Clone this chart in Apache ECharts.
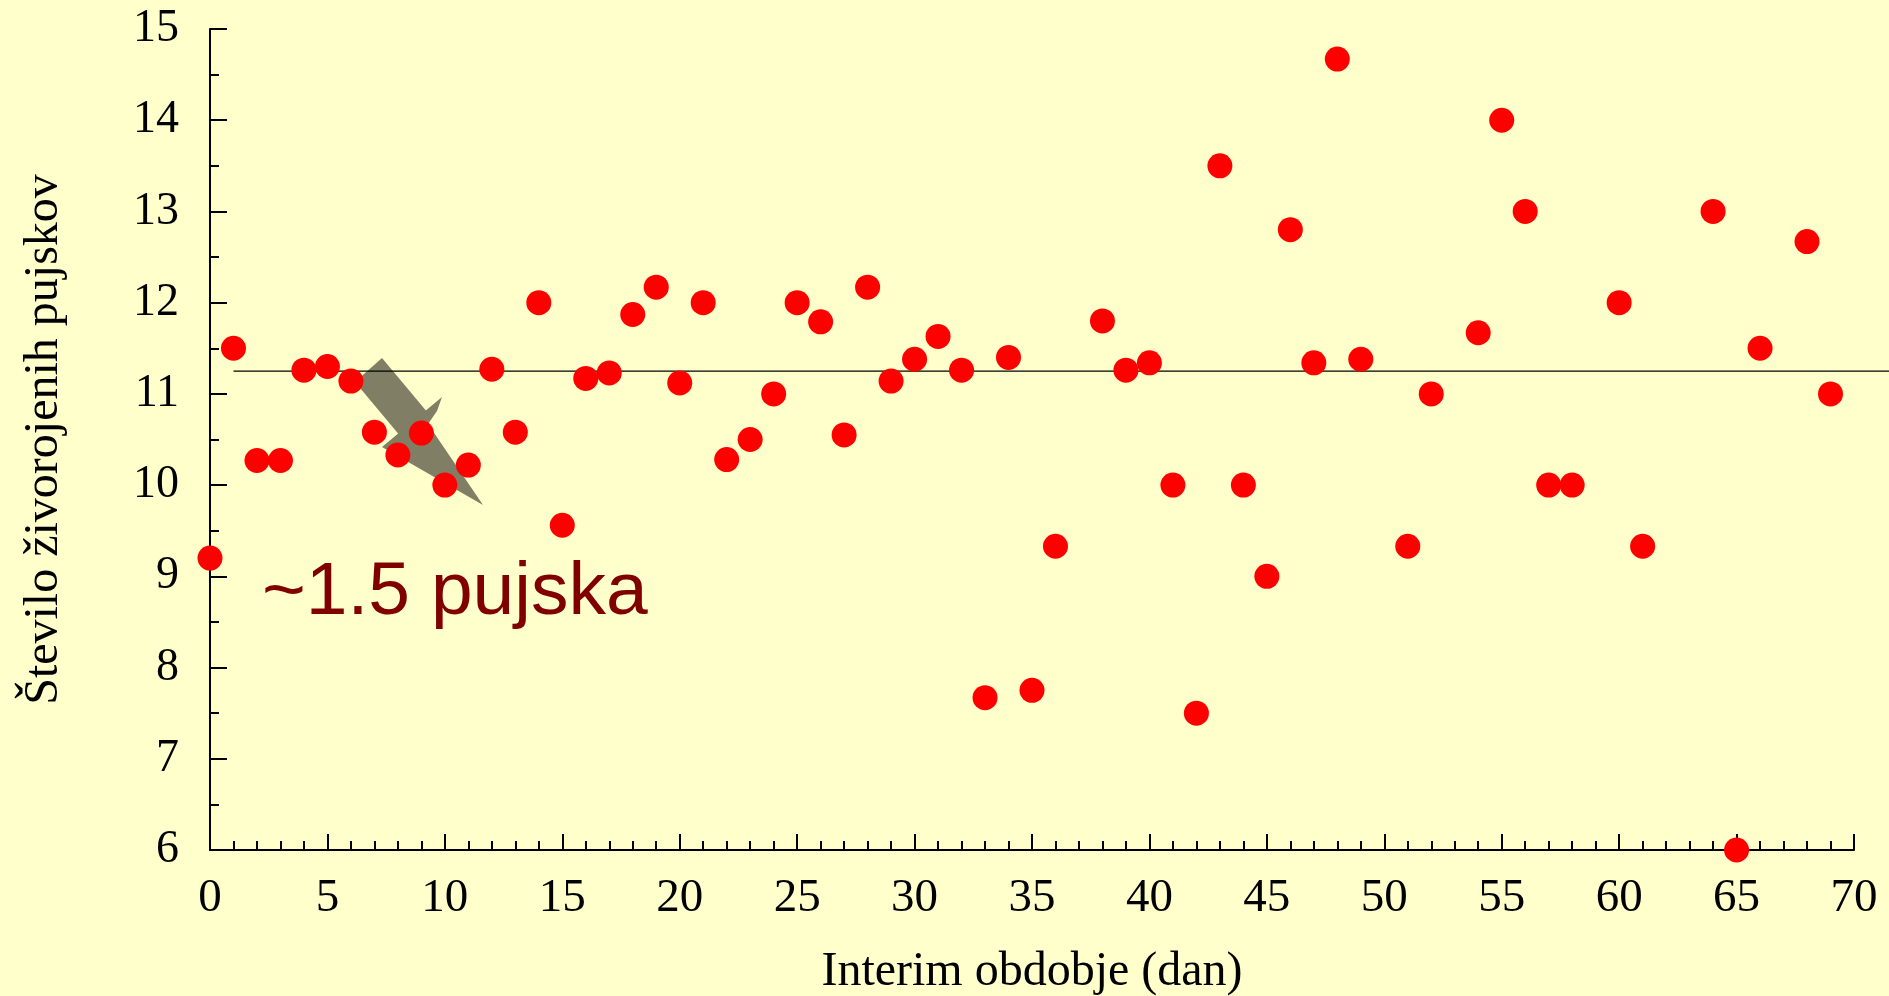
<!DOCTYPE html>
<html>
<head>
<meta charset="utf-8">
<title>Število živorojenih pujskov</title>
<script src="https://cdn.jsdelivr.net/npm/echarts@6/dist/echarts.min.js"></script>
<style>
  html, body { margin: 0; padding: 0; background: #ffffcc; }
  #main { width: 1889px; height: 996px; }
</style>
</head>
<body>
<div id="main"></div>
<script>
// interim period (days) and number of live-born piglets
var days = [0, 1, 2, 3, 4, 5, 6, 7, 8, 9, 10, 11, 12, 13, 14, 15, 16, 17, 18, 19,
  20, 21, 22, 23, 24, 25, 26, 27, 28, 29, 30, 31, 32, 33, 34, 35, 36, 38, 39, 40,
  41, 42, 43, 44, 45, 46, 47, 48, 49, 51, 52, 54, 55, 56, 57, 58, 60, 61, 64, 65,
  66, 68, 69];
var piglets = [9.2, 11.5, 10.27, 10.27, 11.26, 11.3, 11.14, 10.58, 10.33, 10.57, 10.0, 10.22, 11.27, 10.58, 12.0, 9.56, 11.17, 11.23, 11.87, 12.17,
  11.12, 12.0, 10.28, 10.5, 11.0, 12.0, 11.79, 10.55, 12.17, 11.14, 11.38, 11.63, 11.26, 7.67, 11.4, 7.75, 9.33, 11.8, 11.26, 11.34,
  10.0, 7.5, 13.5, 10.0, 9.0, 12.8, 11.34, 14.67, 11.38, 9.33, 11.0, 11.67, 14.0, 13.0, 10.0, 10.0, 12.0, 9.33, 13.0, 6.0,
  11.5, 12.67, 11.0];
var meanValue = 11.25;
var meanFrom = 1;
var meanTo = 71.5;
var xTicks = [0, 70, 5];   // min, max, interval
var yTicks = [6, 15, 1];

var points = [];
for (var i = 0; i < days.length; i++) {
  points.push([days[i], piglets[i]]);
}

var serif = "'Liberation Serif', 'Times New Roman', serif";
var myChart = echarts.init(document.getElementById('main'));

var option = {
  backgroundColor: '#ffffcc',
  animation: false,
  grid: [
    { left: 210, right: 35, top: 29, bottom: 146, outerBoundsMode: 'none' },
    // same scale, stretched to the right edge, only for the mean line
    { left: 210, right: 0, top: 29, bottom: 146, outerBoundsMode: 'none' }
  ],
  xAxis: [{
    type: 'value',
    gridIndex: 0,
    min: xTicks[0],
    max: xTicks[1],
    interval: xTicks[2],
    name: 'Interim obdobje (dan)',
    nameLocation: 'middle',
    nameGap: 98,
    nameTextStyle: { fontFamily: serif, fontSize: 48, color: '#000' },
    axisLine: { show: true, lineStyle: { color: '#000', width: 2 } },
    axisTick: { show: true, inside: true, length: 16, lineStyle: { color: '#000', width: 2 } },
    minorTick: { show: true, splitNumber: 5, length: 9, lineStyle: { color: '#000', width: 2 } },
    axisLabel: { fontFamily: serif, fontSize: 47, color: '#000', margin: 25 },
    splitLine: { show: false }
  }, {
    type: 'value',
    gridIndex: 1,
    show: false,
    min: xTicks[0],
    max: xTicks[1] * (1889 - 210) / (1854 - 210)
  }],
  yAxis: [{
    type: 'value',
    gridIndex: 0,
    min: yTicks[0],
    max: yTicks[1],
    interval: yTicks[2],
    name: 'Število živorojenih pujskov',
    nameLocation: 'middle',
    nameGap: 142,
    nameTextStyle: { fontFamily: serif, fontSize: 48, color: '#000' },
    axisLine: { show: true, lineStyle: { color: '#000', width: 2 } },
    axisTick: { show: true, inside: true, length: 17, lineStyle: { color: '#000', width: 2 } },
    minorTick: { show: true, splitNumber: 2, length: 9, lineStyle: { color: '#000', width: 2 } },
    axisLabel: { fontFamily: serif, fontSize: 46, color: '#000', margin: 31 },
    splitLine: { show: false }
  }, {
    type: 'value',
    gridIndex: 1,
    show: false,
    min: yTicks[0],
    max: yTicks[1]
  }],
  graphic: [
    {
      type: 'polygon',
      z: 1,
      shape: { points: [[355, 382], [382, 358], [428, 413], [401, 437]] },
      style: { fill: '#807f66' }
    },
    {
      type: 'polygon',
      z: 1,
      shape: { points: [[442, 397], [437, 411], [428, 424], [483, 505], [382, 447]] },
      style: { fill: '#807f66' }
    },
    {
      type: 'text',
      z: 1,
      left: 262,
      top: 556,
      style: {
        text: '~1.5 pujska',
        fontFamily: "'Liberation Sans', Arial, sans-serif",
        fontSize: 75,
        fill: '#800000'
      }
    }
  ],
  series: [
    {
      name: 'mean',
      type: 'line',
      xAxisIndex: 1,
      yAxisIndex: 1,
      z: 3,
      symbol: 'none',
      silent: true,
      lineStyle: { color: '#000', width: 1.4 },
      data: [[meanFrom, meanValue], [meanTo, meanValue]]
    },
    {
      name: 'pujski',
      type: 'scatter',
      xAxisIndex: 0,
      yAxisIndex: 0,
      z: 4,
      symbolSize: 25,
      itemStyle: { color: '#ff0000', opacity: 1 },
      data: points
    }
  ]
};
myChart.setOption(option);
</script>
</body>
</html>
